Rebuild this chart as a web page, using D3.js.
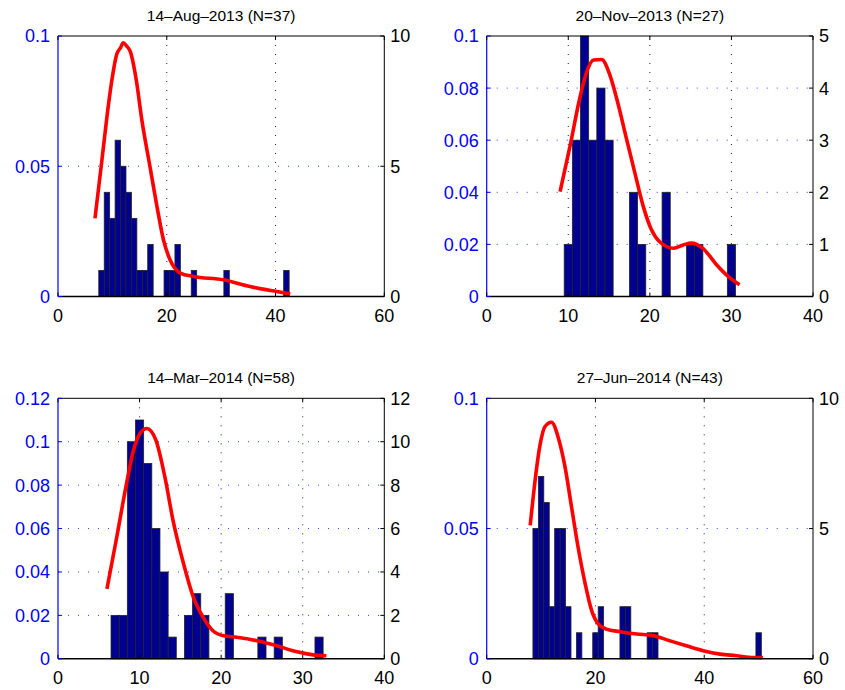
<!DOCTYPE html>
<html>
<head>
<meta charset="utf-8">
<script src="https://cdn.jsdelivr.net/npm/d3@7"></script>
<style>
  body { margin: 0; background: #fff; }
  svg { display: block; }
  text { font-family: "Liberation Sans", Arial, sans-serif; }
</style>
</head>
<body>
<svg id="chart" width="845" height="690"></svg>
<script>
// data

var titles = ["14\u2013Aug\u20132013 (N=37)", "20\u2013Nov\u20132013 (N=27)",
              "14\u2013Mar\u20132014 (N=58)", "27\u2013Jun\u20132014 (N=43)"];

// histogram bins (bin centres) and counts
var binsAug = [8, 9, 10, 11, 12, 13, 14, 15, 16, 17, 20, 21, 22, 25, 31, 42];
var countsAug = [1, 4, 3, 6, 5, 4, 3, 1, 1, 2, 1, 1, 2, 1, 1, 1];
var binsNov = [10, 11, 12, 13, 14, 15, 18, 19, 22, 25, 26, 30];
var countsNov = [1, 3, 5, 3, 4, 3, 2, 1, 2, 1, 1, 1];
var binsMar = [7, 8, 9, 10, 11, 12, 13, 14, 16, 17, 18, 21, 25, 27, 32];
var countsMar = [2, 2, 10, 11, 9, 6, 4, 1, 2, 3, 2, 3, 1, 1, 1];
var binsJun = [9, 10, 11, 12, 13, 14, 15, 17, 20, 21, 25, 26, 30, 31, 50];
var countsJun = [5, 7, 6, 2, 5, 5, 2, 1, 1, 2, 2, 2, 1, 1, 1];

// density curves
var curveAugX = [6.8, 8.0, 9.0, 9.9, 10.8, 11.5, 12.0, 12.6, 13.3, 14.4, 15.4, 16.9, 18.2, 19.4, 20.6, 22.5, 24.9, 30.4, 35.3, 40.2, 42.7];
var curveAugY = [0.030, 0.051, 0.069, 0.083, 0.093, 0.0955, 0.0974, 0.0962, 0.094, 0.083, 0.068, 0.050, 0.0345, 0.0217, 0.0141, 0.0090, 0.0077, 0.0064, 0.0038, 0.0019, 0.0010];
var curveNovX = [9.0, 10.2, 11.4, 12.2, 13.1, 14.1, 15.1, 16.1, 17.1, 18.2, 19.2, 20.2, 21.2, 22.9, 24.1, 25.1, 26.5, 28.2, 29.6, 31.0];
var curveNovY = [0.0403, 0.0575, 0.076, 0.0857, 0.0908, 0.091, 0.085, 0.074, 0.061, 0.047, 0.0345, 0.0256, 0.021, 0.0185, 0.0198, 0.0205, 0.0185, 0.0121, 0.0077, 0.0045];
var curveMarX = [6.0, 7.2, 8.4, 9.2, 10.05, 10.9, 12.0, 13.1, 14.1, 15.4, 16.6, 17.8, 19.0, 20.3, 21.9, 24.4, 26.8, 29.3, 31.3, 32.9];
var curveMarY = [0.0322, 0.056, 0.0807, 0.0953, 0.1038, 0.1061, 0.1007, 0.0838, 0.0638, 0.0437, 0.0283, 0.0191, 0.0129, 0.0106, 0.0099, 0.0083, 0.0060, 0.0032, 0.0018, 0.0014];
var curveJunX = [8.0, 8.9, 9.8, 10.7, 11.9, 13.2, 14.4, 15.6, 16.8, 18.1, 19.3, 20.5, 22.0, 24.5, 27.6, 30.6, 33.7, 36.7, 39.8, 42.9, 45.9, 49.0, 50.8];
var curveJunY = [0.0512, 0.0685, 0.082, 0.0891, 0.0908, 0.0846, 0.0737, 0.0583, 0.0429, 0.0289, 0.0185, 0.0134, 0.0114, 0.0104, 0.0095, 0.0089, 0.0069, 0.0050, 0.0031, 0.0018, 0.0012, 0.0005, 0.0005];

// axis ticks
var xTicks60 = [0, 20, 40, 60];
var xTicks40 = [0, 10, 20, 30, 40];
var densTicks1 = [0, 0.05, 0.1];
var densTicks2 = [0, 0.02, 0.04, 0.06, 0.08, 0.1];
var densTicks3 = [0, 0.02, 0.04, 0.06, 0.08, 0.1, 0.12];
var countTicks10 = [0, 5, 10];
var countTicks5 = [0, 1, 2, 3, 4, 5];
var countTicks12 = [0, 2, 4, 6, 8, 10, 12];

var panels = [
  {title: titles[0], xt: xTicks60, dt: densTicks1, ct: countTicks10, bins: binsAug, counts: countsAug, cx: curveAugX, cy: curveAugY},
  {title: titles[1], xt: xTicks40, dt: densTicks2, ct: countTicks5, bins: binsNov, counts: countsNov, cx: curveNovX, cy: curveNovY},
  {title: titles[2], xt: xTicks40, dt: densTicks3, ct: countTicks12, bins: binsMar, counts: countsMar, cx: curveMarX, cy: curveMarY},
  {title: titles[3], xt: xTicks60, dt: densTicks1, ct: countTicks10, bins: binsJun, counts: countsJun, cx: curveJunX, cy: curveJunY}
];

var lefts = [58, 486.7], tops = [36, 398.3];
var pw = 326.3, ph = 260.5;

var svg = d3.select("#chart");

panels.forEach(function(p, i) {
    var x0 = lefts[i % 2], y0 = tops[Math.floor(i / 2)];
    var g = svg.append("g").attr("transform", "translate(" + x0 + "," + y0 + ")");

    var x = d3.scaleLinear().domain([0, d3.max(p.xt)]).range([0, pw]);
    var yd = d3.scaleLinear().domain([0, d3.max(p.dt)]).range([ph, 0]);
    var yc = d3.scaleLinear().domain([0, d3.max(p.ct)]).range([ph, 0]);

    // grid
    g.append("g").selectAll("line")
        .data(p.xt.slice(1, -1))
        .enter().append("line")
        .attr("x1", function(d) { return x(d); })
        .attr("x2", function(d) { return x(d); })
        .attr("y1", 0).attr("y2", ph)
        .attr("stroke", "#222").attr("stroke-width", 1)
        .attr("stroke-dasharray", "1,8");
    g.append("g").selectAll("line")
        .data(p.dt.slice(1, -1))
        .enter().append("line")
        .attr("x1", 0).attr("x2", pw)
        .attr("y1", function(d) { return yd(d); })
        .attr("y2", function(d) { return yd(d); })
        .attr("stroke", "#3040ff").attr("stroke-width", 1)
        .attr("stroke-dasharray", "1,9");

    // bars
    g.append("g").selectAll("rect")
        .data(p.bins)
        .enter().append("rect")
        .attr("x", function(d) { return x(d - 0.5); })
        .attr("width", function(d) { return x(1) - x(0); })
        .attr("y", function(d, j) { return yc(p.counts[j]); })
        .attr("height", function(d, j) { return ph - yc(p.counts[j]); })
        .attr("fill", "#000090")
        .attr("stroke", "#222").attr("stroke-width", 0.8);

    // density curve
    var line = d3.line()
        .x(function(d) { return x(d[0]); })
        .y(function(d) { return yd(d[1]); })
        .curve(d3.curveMonotoneX);
    g.append("path")
        .datum(d3.zip(p.cx, p.cy))
        .attr("d", line)
        .attr("fill", "none")
        .attr("stroke", "#ff0000").attr("stroke-width", 3.6)
        .attr("stroke-linejoin", "round");

    // frame
    g.append("line").attr("x1", 0).attr("x2", pw).attr("y1", 0).attr("y2", 0).attr("stroke", "#000");
    g.append("line").attr("x1", 0).attr("x2", pw).attr("y1", ph).attr("y2", ph).attr("stroke", "#000").attr("stroke-width", 1.5);
    g.append("line").attr("x1", pw).attr("x2", pw).attr("y1", 0).attr("y2", ph).attr("stroke", "#000");
    g.append("line").attr("x1", 0).attr("x2", 0).attr("y1", 0).attr("y2", ph).attr("stroke", "#0000ff").attr("stroke-width", 1.2);

    // x axis ticks and labels
    var xt = g.append("g");
    xt.selectAll("line.b").data(p.xt).enter().append("line")
        .attr("x1", function(d) { return x(d); }).attr("x2", function(d) { return x(d); })
        .attr("y1", ph).attr("y2", ph - 4).attr("stroke", "#000");
    xt.selectAll("line.t").data(p.xt).enter().append("line")
        .attr("x1", function(d) { return x(d); }).attr("x2", function(d) { return x(d); })
        .attr("y1", 0).attr("y2", 4).attr("stroke", "#000");
    xt.selectAll("text").data(p.xt).enter().append("text")
        .attr("x", function(d) { return x(d); })
        .attr("y", ph + 25)
        .attr("text-anchor", "middle")
        .attr("font-size", 18).attr("fill", "#000")
        .text(function(d) { return d; });

    // left (density) axis
    var la = g.append("g");
    la.selectAll("line").data(p.dt).enter().append("line")
        .attr("x1", 0).attr("x2", 4)
        .attr("y1", function(d) { return yd(d); }).attr("y2", function(d) { return yd(d); })
        .attr("stroke", "#0000ff");
    la.selectAll("text").data(p.dt).enter().append("text")
        .attr("x", -8)
        .attr("y", function(d) { return yd(d); })
        .attr("dy", "0.36em")
        .attr("text-anchor", "end")
        .attr("font-size", 18).attr("fill", "#0000ff")
        .text(function(d) { return String(d); });

    // right (count) axis
    var ra = g.append("g");
    ra.selectAll("line").data(p.ct).enter().append("line")
        .attr("x1", pw).attr("x2", pw - 4)
        .attr("y1", function(d) { return yc(d); }).attr("y2", function(d) { return yc(d); })
        .attr("stroke", "#000");
    ra.selectAll("text").data(p.ct).enter().append("text")
        .attr("x", pw + 6)
        .attr("y", function(d) { return yc(d); })
        .attr("dy", "0.36em")
        .attr("font-size", 18).attr("fill", "#000")
        .text(function(d) { return d; });

    // title
    g.append("text")
        .attr("x", pw / 2)
        .attr("y", -15.5)
        .attr("text-anchor", "middle")
        .attr("font-size", 15.5).attr("fill", "#000")
        .text(p.title);
});
</script>
</body>
</html>
